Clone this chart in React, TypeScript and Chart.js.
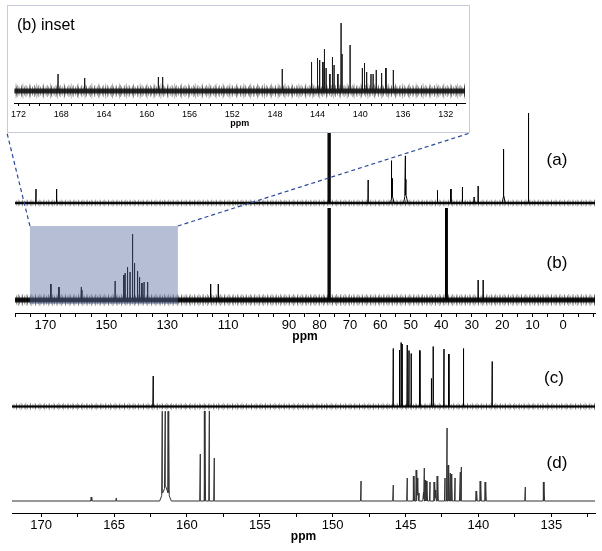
import React, { useEffect, useRef } from 'react';
import { Chart, registerables } from 'chart.js';

Chart.register(...registerables);

const FONT = '"Liberation Sans", Arial, Helvetica, sans-serif';

// ---------------- axes (ppm) ----------------
const MAIN_RANGE: [number, number] = [180, -10.5];
const MAIN_TICKS = [180, 175, 170, 165, 160, 155, 150, 145, 140, 135, 130, 125, 120, 115, 110, 105, 100, 95, 90, 85, 80, 75, 70, 65, 60, 55, 50, 45, 40, 35, 30, 25, 20, 15, 10, 5, 0, -5, -10];
const MAIN_LABELS = [170, 150, 130, 110, 90, 80, 70, 60, 50, 40, 30, 20, 10, 0];

const INSET_RANGE: [number, number] = [172.4, 130.2];
const INSET_TICKS = [172, 171, 170, 169, 168, 167, 166, 165, 164, 163, 162, 161, 160, 159, 158, 157, 156, 155, 154, 153, 152, 151, 150, 149, 148, 147, 146, 145, 144, 143, 142, 141, 140, 139, 138, 137, 136, 135, 134, 133, 132, 131];
const INSET_LABELS = [172, 168, 164, 160, 156, 152, 148, 144, 140, 136, 132];

const LOWER_RANGE: [number, number] = [172, 132];
const LOWER_TICKS = [170, 167.5, 165, 162.5, 160, 157.5, 155, 152.5, 150, 147.5, 145, 142.5, 140, 137.5, 135, 132.5];
const LOWER_LABELS = [170, 165, 160, 155, 150, 145, 140, 135];

// zoomed region of spectrum (b) shown in the inset
const HIGHLIGHT_PPM: [number, number] = [175.1, 126.5];

// ---------------- spectrum (a) ----------------
const A_PPM = [173.1, 166.3, 77.1, 76.8, 76.5, 64.0, 56.3, 56.0, 51.9, 51.6, 41.2, 36.8, 33.0, 29.2, 27.85, 19.5, 11.3];
const A_HEIGHT = [14, 14, 110, 110, 110, 23, 37, 18, 40, 15, 12.6, 14, 16, 6, 17, 46, 90];
const A_HUMP_PPM = [56.1, 51.7, 19.5];
const A_HUMP_HEIGHT = [8, 10, 8];
const A_HUMP_WIDTH = [0.6, 0.7, 0.5];

// ---------------- spectrum (b) ----------------
const B_PPM = [168.2, 165.55, 158.3, 158.0, 147.1, 144.2, 143.8, 143.0, 142.2, 141.35, 140.7, 139.7, 139.05, 138.3, 137.6, 136.4, 115.7, 113.2, 77.1, 76.8, 76.5, 38.6, 38.4, 38.2, 38.0, 27.85, 26.2];
const B_HEIGHT = [16, 13, 13, 10, 19, 25, 27, 33, 28, 66, 37, 29, 23, 17, 18, 18, 16, 16, 92, 92, 92, 92, 92, 92, 92, 20, 20];

// ---------------- inset: spectrum (b), 172-130 ppm ----------------
const INSET_PPM = [168.3, 165.8, 158.9, 158.5, 147.3, 144.56, 144.0, 143.8, 143.5, 143.35, 143.2, 142.85, 142.6, 142.45, 142.1, 141.8, 141.7, 140.95, 139.8, 139.6, 139.4, 139.0, 138.8, 138.5, 138.0, 137.6, 136.9];
const INSET_HEIGHT = [17, 13, 14, 14, 22, 29, 33, 31, 29, 42, 23, 17, 34, 26, 17, 68, 37, 46, 23, 28, 19, 17, 17, 21, 18, 23, 21];

// ---------------- spectrum (c) ----------------
const C_PPM = [162.31, 145.84, 145.4, 145.29, 145.22, 144.88, 144.76, 144.6, 144.01, 143.21, 143.09, 142.36, 142.02, 141.01, 139.05];
const C_HEIGHT = [30.5, 58, 56.5, 64, 62.5, 61.5, 56, 53, 56, 28, 60, 57.5, 52.5, 58, 45];

// ---------------- spectrum (d) ----------------
const D_PPM = [166.53, 164.84, 161.69, 161.5, 161.25, 159.08, 158.76, 158.46, 158.12, 148.05, 145.84, 144.88, 144.42, 144.23, 144.16, 144.07, 143.78, 143.71, 143.62, 143.53, 143.32, 143.0, 142.93, 142.79, 142.29, 142.15, 142.04, 141.93, 141.83, 141.6, 141.26, 141.17, 140.12, 139.84, 139.5, 136.78, 135.5];
const D_HEIGHT = [4, 3, 83, 76, 83, 47, 90, 90, 43, 20, 16, 23, 25, 31, 23, 8, 9, 33, 21, 20, 19, 19, 11, 25, 23, 73, 36, 28, 27, 23, 29, 34, 10, 20, 19, 14, 19];
const D_HUMP_PPM = [161.47];
const D_HUMP_HEIGHT = [15];
const D_HUMP_WIDTH = [0.4];

// ---------------- layout / style ----------------
const INSET_BOX = { left: 7, top: 5, width: 463, height: 128 };
const MAIN_H = 345;
const LOWER_TOP = 335;
const LOWER_H = 216;

type Peak = { p: number; h: number; w: number };

function sticks(ppm: number[], h: number[], w: number): Peak[] {
  return ppm.map((p, i) => ({ p, h: h[i], w }));
}
function humps(ppm: number[], h: number[], w: number[]): Peak[] {
  return ppm.map((p, i) => ({ p, h: h[i], w: w[i] }));
}

function buildTrace(peaks: Peak[], range: [number, number], offset: number) {
  const lo = Math.min(range[0], range[1]);
  const hi = Math.max(range[0], range[1]);
  const xs: number[] = [lo, hi];
  peaks.forEach((k) => xs.push(k.p - k.w, k.p, k.p + k.w));
  const uniq = Array.from(new Set(xs.filter((x) => x >= lo && x <= hi))).sort((a, b) => a - b);
  return uniq.map((x) => ({
    x,
    y: offset + peaks.reduce((s, k) => s + Math.max(0, k.h * (1 - Math.abs(x - k.p) / k.w)), 0),
  }));
}

type Band = { lw: number; color: string; dash?: number[] };

function traceDataset(data: any[], color: string, lw = 1) {
  return { data, showLine: true, borderColor: color, borderWidth: lw, pointRadius: 0, tension: 0, fill: false };
}
// baseline noise is drawn as a textured band (style only, no data)
function bandDatasets(range: [number, number], offset: number, bands: Band[]) {
  return bands.map((b) => ({
    data: [
      { x: Math.min(range[0], range[1]), y: offset },
      { x: Math.max(range[0], range[1]), y: offset },
    ],
    showLine: true,
    borderColor: b.color,
    borderWidth: b.lw,
    borderDash: b.dash || [],
    borderCapStyle: 'butt',
    pointRadius: 0,
    fill: false,
  }));
}

function xAxis(
  range: [number, number],
  ticks: number[],
  labels: number[],
  o: { font: number; tickLen: number; pad: number; height: number; titleFont: number; titlePad: number }
) {
  return {
    type: 'linear',
    reverse: true,
    min: range[1],
    max: range[0],
    afterBuildTicks: (s: any) => {
      s.ticks = ticks.map((v) => ({ value: v }));
    },
    afterFit: (s: any) => {
      s.height = o.height;
    },
    grid: { display: true, drawOnChartArea: false, drawTicks: true, tickLength: o.tickLen, color: '#000', lineWidth: 1 },
    border: { display: true, color: '#000', width: 1 },
    ticks: {
      autoSkip: false,
      maxRotation: 0,
      minRotation: 0,
      padding: o.pad,
      color: '#000',
      font: { family: FONT, size: o.font },
      callback: (v: number) => (labels.includes(v) ? String(v) : ''),
    },
    title: {
      display: true,
      text: 'ppm',
      color: '#000',
      font: { family: FONT, size: o.titleFont, weight: 'bold' },
      padding: { top: 0, bottom: o.titlePad },
    },
  };
}

function textPlugin(items: { text: string; x: number; y: number; font: string; align?: CanvasTextAlign }[]) {
  return {
    id: 'panelText',
    afterDraw(chart: any) {
      const ctx = chart.ctx;
      ctx.save();
      items.forEach((t) => {
        ctx.font = t.font;
        ctx.fillStyle = '#000';
        ctx.textAlign = t.align || 'center';
        ctx.textBaseline = 'middle';
        ctx.fillText(t.text, t.x, t.y);
      });
      ctx.restore();
    },
  };
}

const baseOptions = {
  responsive: false,
  animation: false,
  events: [],
  plugins: { legend: { display: false }, tooltip: { enabled: false } },
};

function mainConfig(): any {
  const yMax = MAIN_H - 32;
  const offA = 110;
  const offB = 13;
  const aPeaks = [...sticks(A_PPM, A_HEIGHT, 0.06), ...humps(A_HUMP_PPM, A_HUMP_HEIGHT, A_HUMP_WIDTH)];
  const bPeaks = sticks(B_PPM, B_HEIGHT, 0.06);
  const highlight = {
    id: 'highlight',
    afterDatasetsDraw(chart: any) {
      const { ctx, scales } = chart;
      const x0 = scales.x.getPixelForValue(HIGHLIGHT_PPM[0]);
      const x1 = scales.x.getPixelForValue(HIGHLIGHT_PPM[1]);
      const yTop = scales.y.getPixelForValue(87);
      const yBot = scales.y.getPixelForValue(9);
      ctx.save();
      ctx.fillStyle = 'rgba(90,110,160,0.45)';
      ctx.fillRect(Math.min(x0, x1), yTop, Math.abs(x1 - x0), yBot - yTop);
      ctx.setLineDash([4, 3]);
      ctx.strokeStyle = '#2b4a9c';
      ctx.lineWidth = 1.2;
      ctx.beginPath();
      ctx.moveTo(Math.min(x0, x1), yTop);
      ctx.lineTo(INSET_BOX.left, INSET_BOX.top + INSET_BOX.height);
      ctx.moveTo(Math.max(x0, x1), yTop);
      ctx.lineTo(INSET_BOX.left + INSET_BOX.width, INSET_BOX.top + INSET_BOX.height);
      ctx.stroke();
      ctx.restore();
    },
  };
  return {
    type: 'scatter',
    data: {
      datasets: [
        traceDataset(buildTrace(aPeaks, MAIN_RANGE, offA), '#000'),
        traceDataset(buildTrace(bPeaks, MAIN_RANGE, offB), '#000'),
        ...bandDatasets(MAIN_RANGE, offA, [
          { lw: 2.5, color: 'rgba(0,0,0,0.9)' },
          { lw: 5, color: 'rgba(0,0,0,0.4)', dash: [1, 1.7] },
          { lw: 7, color: 'rgba(0,0,0,0.3)', dash: [1, 3.3] },
        ]),
        ...bandDatasets(MAIN_RANGE, offB, [
          { lw: 5, color: 'rgba(0,0,0,0.9)' },
          { lw: 9, color: 'rgba(0,0,0,0.5)', dash: [1, 1.7] },
          { lw: 12, color: 'rgba(0,0,0,0.35)', dash: [1, 3.3] },
        ]),
      ],
    },
    options: {
      ...baseOptions,
      layout: { padding: { left: 15, right: 7, top: 0, bottom: 0 } },
      scales: {
        x: xAxis(MAIN_RANGE, MAIN_TICKS, MAIN_LABELS, { font: 13, tickLen: 4, pad: 1, height: 32, titleFont: 12, titlePad: 1 }),
        y: { display: false, min: 0, max: yMax },
      },
    },
    plugins: [
      highlight,
      textPlugin([
        { text: '(a)', x: 557, y: 160, font: `17px ${FONT}` },
        { text: '(b)', x: 557, y: 263, font: `17px ${FONT}` },
      ]),
    ],
  };
}

function lowerConfig(): any {
  const yMax = LOWER_H - 38;
  const offC = 106.5;
  const offD = 12;
  const cPeaks = sticks(C_PPM, C_HEIGHT, 0.02);
  const dPeaks = [...sticks(D_PPM, D_HEIGHT, 0.04), ...humps(D_HUMP_PPM, D_HUMP_HEIGHT, D_HUMP_WIDTH)];
  return {
    type: 'scatter',
    data: {
      datasets: [
        traceDataset(buildTrace(cPeaks, LOWER_RANGE, offC), '#000'),
        traceDataset(buildTrace(dPeaks, LOWER_RANGE, offD), '#333'),
        ...bandDatasets(LOWER_RANGE, offC, [
          { lw: 2.5, color: 'rgba(0,0,0,0.8)' },
          { lw: 5, color: 'rgba(0,0,0,0.4)', dash: [1, 1.7] },
          { lw: 7.5, color: 'rgba(0,0,0,0.3)', dash: [1, 3.7] },
        ]),
      ],
    },
    options: {
      ...baseOptions,
      layout: { padding: { left: 12, right: 7, top: 0, bottom: 0 } },
      scales: {
        x: xAxis(LOWER_RANGE, LOWER_TICKS, LOWER_LABELS, { font: 13, tickLen: 4, pad: 1, height: 38, titleFont: 12, titlePad: 7 }),
        y: { display: false, min: 0, max: yMax },
      },
    },
    plugins: [
      textPlugin([
        { text: '(c)', x: 554, y: 378 - LOWER_TOP, font: `17px ${FONT}` },
        { text: '(d)', x: 557, y: 463 - LOWER_TOP, font: `17px ${FONT}` },
      ]),
    ],
  };
}

function insetConfig(): any {
  const innerH = INSET_BOX.height - 2;
  const yMax = innerH - 29;
  const off = 12;
  const peaks = sticks(INSET_PPM, INSET_HEIGHT, 0.015);
  return {
    type: 'scatter',
    data: {
      datasets: [
        traceDataset(buildTrace(peaks, INSET_RANGE, off), '#1a1a1a'),
        ...bandDatasets(INSET_RANGE, off, [
          { lw: 5, color: 'rgba(10,10,10,0.85)' },
          { lw: 9, color: 'rgba(10,10,10,0.5)', dash: [1, 1.7] },
          { lw: 12, color: 'rgba(10,10,10,0.4)', dash: [1, 3.3] },
          { lw: 15, color: 'rgba(10,10,10,0.3)', dash: [1, 5.9] },
        ]),
      ],
    },
    options: {
      ...baseOptions,
      layout: { padding: { left: 4, right: 4, top: 0, bottom: 0 } },
      scales: {
        x: xAxis(INSET_RANGE, INSET_TICKS, INSET_LABELS, { font: 9, tickLen: 3, pad: 3, height: 29, titleFont: 9, titlePad: 2.6 }),
        y: { display: false, min: 0, max: yMax },
      },
    },
    plugins: [textPlugin([{ text: '(b) inset', x: 9, y: 20, font: `16px ${FONT}`, align: 'left' }])],
  };
}

export default function App() {
  const mainRef = useRef<HTMLCanvasElement>(null);
  const lowerRef = useRef<HTMLCanvasElement>(null);
  const insetRef = useRef<HTMLCanvasElement>(null);

  useEffect(() => {
    const charts = [
      new Chart(mainRef.current as HTMLCanvasElement, mainConfig()),
      new Chart(lowerRef.current as HTMLCanvasElement, lowerConfig()),
      new Chart(insetRef.current as HTMLCanvasElement, insetConfig()),
    ];
    return () => charts.forEach((c) => c.destroy());
  }, []);

  return (
    <div style={{ position: 'absolute', left: 0, top: 0, width: 602, height: 551, background: '#fff', overflow: 'hidden' }}>
      <canvas ref={mainRef} width={602} height={MAIN_H} style={{ position: 'absolute', left: 0, top: 0, display: 'block' }} />
      <canvas ref={lowerRef} width={602} height={LOWER_H} style={{ position: 'absolute', left: 0, top: LOWER_TOP, display: 'block' }} />
      <div
        style={{
          position: 'absolute',
          left: INSET_BOX.left,
          top: INSET_BOX.top,
          width: INSET_BOX.width - 2,
          height: INSET_BOX.height - 2,
          border: '1px solid #c5cbdc',
          background: '#fff',
        }}
      >
        <canvas ref={insetRef} width={INSET_BOX.width - 2} height={INSET_BOX.height - 2} style={{ display: 'block' }} />
      </div>
    </div>
  );
}
